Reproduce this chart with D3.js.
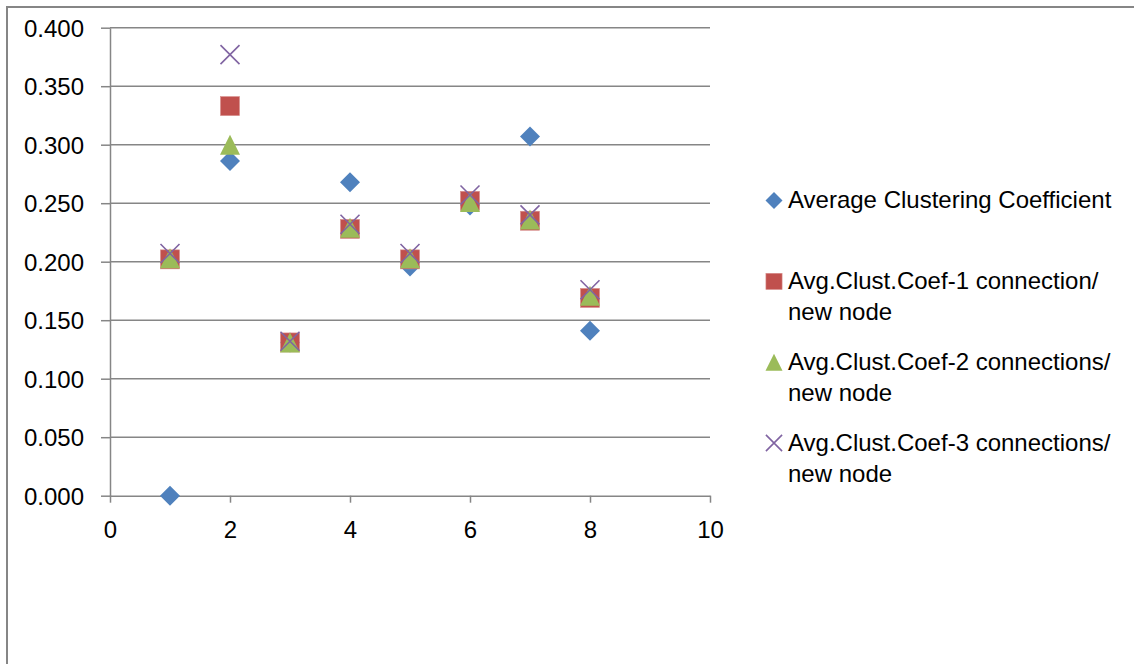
<!DOCTYPE html>
<html>
<head>
<meta charset="utf-8">
<script src="https://cdn.jsdelivr.net/npm/d3@7"></script>
<style>
  html, body { margin: 0; padding: 0; background: #fff; }
  svg { display: block; }
  text { font-family: "Liberation Sans", Arial, sans-serif; fill: #000; }
</style>
</head>
<body>
<svg id="chart" width="1134" height="664"></svg>
<script>
// ---- data ----
const xValues = [1, 2, 3, 4, 5, 6, 7, 8];
const avgClust = [0.000, 0.286, 0.131, 0.268, 0.196, 0.248, 0.307, 0.141];
const coef1 = [0.202, 0.333, 0.131, 0.228, 0.202, 0.252, 0.235, 0.169];
const coef2 = [0.203, 0.300, 0.131, 0.229, 0.203, 0.251, 0.236, 0.171];
const coef3 = [0.207, 0.377, 0.132, 0.232, 0.207, 0.257, 0.240, 0.176];
const yTicks = [0, 0.05, 0.10, 0.15, 0.20, 0.25, 0.30, 0.35, 0.40];
const xTicks = [0, 2, 4, 6, 8, 10];
const seriesNames = [
  ["Average Clustering Coefficient"],
  ["Avg.Clust.Coef-1 connection/", "new node"],
  ["Avg.Clust.Coef-2 connections/", "new node"],
  ["Avg.Clust.Coef-3 connections/", "new node"]
];

// ---- layout / style ----
const colors = ["#4F81BD", "#C0504D", "#9BBB59", "#8064A2"];
const shapes = ["diamond", "square", "triangle", "cross"];
const series = [avgClust, coef1, coef2, coef3];
const gridColor = "#868686";

const svg = d3.select("#chart");
const x = d3.scaleLinear().domain([0, 10]).range([110, 710]);
const y = d3.scaleLinear().domain([0, 0.4]).range([495.7, 27.7]);

// outer chart border (right/bottom outside the picture)
svg.append("rect").attr("x", 7).attr("y", 7).attr("width", 1400).attr("height", 900)
  .attr("fill", "none").attr("stroke", gridColor).attr("stroke-width", 2);

// gridlines
svg.append("g").selectAll("line").data(yTicks.filter(d => d > 0)).join("line")
  .attr("x1", x(0)).attr("x2", x(10))
  .attr("y1", d => y(d)).attr("y2", d => y(d))
  .attr("stroke", gridColor).attr("stroke-width", 1.5);

// y axis
const yAxis = svg.append("g").attr("transform", `translate(${x(0)},0)`)
  .call(d3.axisLeft(y).tickValues(yTicks).tickFormat(d3.format(".3f"))
    .tickSizeInner(9).tickSizeOuter(0).tickPadding(17));
// x axis
const xAxis = svg.append("g").attr("transform", `translate(0,${y(0)})`)
  .call(d3.axisBottom(x).tickValues(xTicks).tickFormat(d3.format("d"))
    .tickSizeInner(7).tickSizeOuter(0).tickPadding(18));

[yAxis, xAxis].forEach(g => {
  g.select(".domain").attr("stroke", gridColor).attr("stroke-width", 1.5);
  g.selectAll(".tick line").attr("stroke", gridColor).attr("stroke-width", 1.5);
  g.selectAll(".tick text").attr("font-size", 24)
    .attr("font-family", '"Liberation Sans", Arial, sans-serif').attr("fill", "#000");
});
yAxis.selectAll(".tick text").attr("dy", "0.36em");

// marker drawing
function drawMarker(g, shape, color, size) {
  const h = size / 2;
  if (shape === "diamond") {
    g.append("path").attr("d", `M0,${-h}L${h},0L0,${h}L${-h},0Z`).attr("fill", color);
  } else if (shape === "square") {
    const s = h * 0.95;
    g.append("rect").attr("x", -s).attr("y", -s).attr("width", 2 * s).attr("height", 2 * s)
      .attr("fill", color).attr("stroke", "#D88D8B").attr("stroke-width", 0.6);
  } else if (shape === "triangle") {
    g.append("path").attr("d", `M0,${-h}L${h},${h}L${-h},${h}Z`).attr("fill", color);
  } else {
    const c = h * 0.95;
    g.append("path").attr("d", `M${-c},${-c}L${c},${c}M${-c},${c}L${c},${-c}`)
      .attr("stroke", color).attr("stroke-width", 1.6).attr("fill", "none");
  }
}

// points
series.forEach((vals, si) => {
  const g = svg.append("g");
  vals.forEach((v, i) => {
    const m = g.append("g").attr("transform", `translate(${x(xValues[i])},${y(v)})`);
    drawMarker(m, shapes[si], colors[si], 20);
  });
});

// legend
const legendX = 774, legendTextX = 788, legendBase = 208.3, legendStep = 80.8, lineStep = 31;
seriesNames.forEach((lines, si) => {
  const base = legendBase + si * legendStep;
  const m = svg.append("g").attr("transform", `translate(${legendX},${base - 7.7})`);
  drawMarker(m, shapes[si], colors[si], 17);
  lines.forEach((t, li) => {
    svg.append("text").attr("x", legendTextX).attr("y", base + li * lineStep)
      .attr("font-size", 24).text(t);
  });
});
</script>
</body>
</html>
